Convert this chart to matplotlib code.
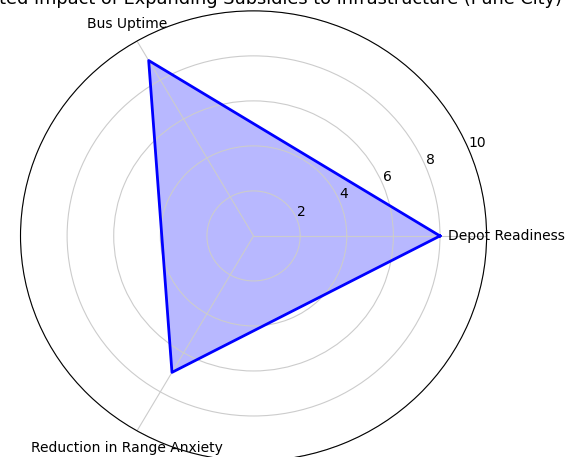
import numpy as np
import matplotlib
matplotlib.use("Agg")
import matplotlib.pyplot as plt

categories = ["Depot Readiness", "Bus Uptime", "Reduction in Range Anxiety"]
values = [8.0, 9.0, 7.0]
rticks = [2, 4, 6, 8, 10]
title = "Projected Impact of Expanding Subsidies to Infrastructure (Pune City)"

n = len(categories)
angles = np.linspace(0, 2 * np.pi, n, endpoint=False).tolist()
vals = values + values[:1]
angs = angles + angles[:1]

fig = plt.figure(figsize=(5.79, 4.57), dpi=100)
ax = fig.add_axes([0.0354, -0.00875, 0.805, 0.985], polar=True)
ax.set_aspect("auto")
ax.fill(angs, vals, color="blue", alpha=0.28)
ax.plot(angs, vals, color="blue", linewidth=2)
ax.set_xticks(angles)
ax.set_xticklabels(categories, fontsize=10)
ax.set_ylim(0, 10)
ax.set_yticks(rticks)
ax.set_yticklabels([str(t) for t in rticks], fontsize=10)
ax.grid(color="#cccccc", linewidth=0.8)
ax.set_title(title, fontsize=12.8, y=1.0155, pad=0)
fig.savefig("out.png", dpi=100)
